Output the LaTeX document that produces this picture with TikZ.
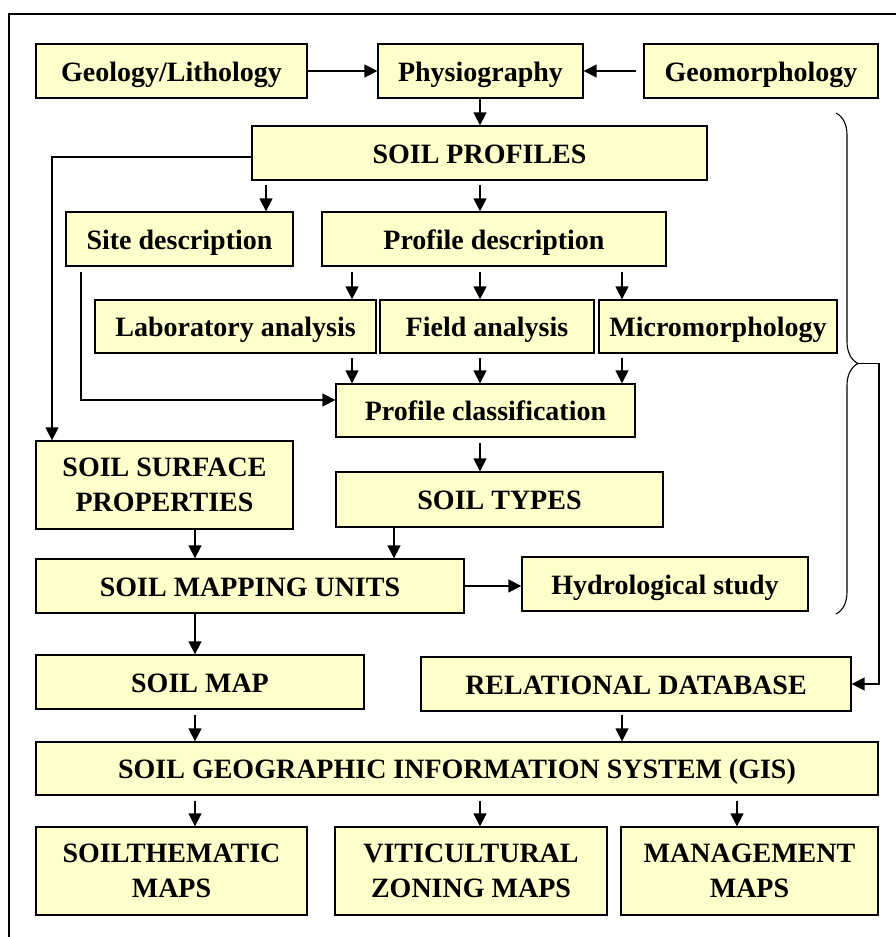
\documentclass[tikz,border=0pt]{standalone}
\usepackage{fontspec}
\setmainfont{Liberation Serif}
\usetikzlibrary{arrows.meta,decorations.pathreplacing}
\definecolor{boxfill}{RGB}{255,255,204}
\begin{document}
\begin{tikzpicture}[x=1pt,y=-1pt,
  box/.style={draw=black,fill=boxfill,line width=1.3pt,inner sep=0pt,align=center,
    font=\fontsize{28}{35}\selectfont\bfseries},
  oneline/.style={box,text height=22pt,text depth=2pt},
  arr/.style={line width=1.4pt,-{Triangle[length=13pt,width=13pt]}},
  plain/.style={line width=1.4pt}]
\useasboundingbox (0,0) rectangle (896,937);
\draw[plain] (9,937) -- (9,14) -- (896,14);
% boxes
\node[oneline,minimum width=271,minimum height=54] (geo) at (171.5,71) {Geology/Lithology};
\node[oneline,minimum width=205,minimum height=54] (phys) at (480.5,71) {Physiography};
\node[oneline,minimum width=234,minimum height=54] (geom) at (761,71) {Geomorphology};
\node[oneline,minimum width=455,minimum height=54] (sp) at (479.5,153) {SOIL PROFILES};
\node[oneline,minimum width=227,minimum height=54] (sd) at (179.5,239) {Site description};
\node[oneline,minimum width=344,minimum height=54] (pd) at (494,239) {Profile description};
\node[oneline,minimum width=281,minimum height=53] (lab) at (235.5,326.5) {Laboratory analysis};
\node[oneline,minimum width=214,minimum height=53] (fa) at (487,326.5) {Field analysis};
\node[oneline,minimum width=238,minimum height=53] (mm) at (718,326.5) {Micromorphology};
\node[oneline,minimum width=299,minimum height=53] (pc) at (485.5,410.5) {Profile classification};
\node[oneline,minimum width=327,minimum height=55] (st) at (499.5,499.5) {SOIL TYPES};
\node[box,minimum width=257,minimum height=88] (ssp) at (164.5,485) {SOIL SURFACE\\PROPERTIES};
\node[oneline,minimum width=428,minimum height=54] (smu) at (250,586) {SOIL MAPPING UNITS};
\node[oneline,minimum width=286,minimum height=54] (hyd) at (665,584) {Hydrological study};
\node[oneline,minimum width=328,minimum height=54] (sm) at (200,682) {SOIL MAP};
\node[oneline,minimum width=430,minimum height=54] (rdb) at (636,684) {RELATIONAL DATABASE};
\node[oneline,minimum width=842,minimum height=53] (gis) at (457,768.5) {SOIL GEOGRAPHIC INFORMATION SYSTEM (GIS)};
\node[box,minimum width=271,minimum height=88] (stm) at (171.5,871) {SOILTHEMATIC\\MAPS};
\node[box,minimum width=272,minimum height=88] (vit) at (471,871) {VITICULTURAL\\ZONING MAPS};
\node[box,minimum width=257,minimum height=88] (mgm) at (749.5,871) {MANAGEMENT\\MAPS};
% connectors
\draw[arr] (geo.east) -- (phys.west);
\draw[arr,shorten <=7pt] (geom.west) -- (phys.east);
\draw[arr] (phys.south -| 480,0) -- (sp.north -| 480,0);
\draw[arr] (sp.west |- 0,157) -| (ssp.north -| 52,0);
\draw[arr,shorten <=4pt] (sp.south -| 266,0) -- (sd.north -| 266,0);
\draw[arr,shorten <=4pt] (sp.south -| 480,0) -- (pd.north -| 480,0);
\draw[arr,shorten <=5pt] (pd.south -| 352,0) -- (lab.north -| 352,0);
\draw[arr,shorten <=5pt] (pd.south -| 480,0) -- (fa.north -| 480,0);
\draw[arr,shorten <=5pt] (pd.south -| 622,0) -- (mm.north -| 622,0);
\draw[arr,shorten <=4pt] (lab.south -| 352,0) -- (pc.north -| 352,0);
\draw[arr,shorten <=4pt] (fa.south -| 480,0) -- (pc.north -| 480,0);
\draw[arr,shorten <=4pt] (mm.south -| 622,0) -- (pc.north -| 622,0);
\draw[arr,shorten <=5pt] (sd.south -| 81,0) |- (pc.west |- 0,400);
\draw[arr,shorten <=5pt] (pc.south -| 480,0) -- (st.north -| 480,0);
\draw[arr] (ssp.south -| 195,0) -- (smu.north -| 195,0);
\draw[arr] (st.south -| 394,0) -- (smu.north -| 394,0);
\draw[arr] (smu.east) -- (hyd.west |- smu.east);
\draw[arr] (smu.south -| 195,0) -- (sm.north -| 195,0);
\draw[arr,shorten <=5pt] (sm.south -| 195,0) -- (gis.north -| 195,0);
\draw[arr,shorten <=3pt] (rdb.south -| 622,0) -- (gis.north -| 622,0);
\draw[arr,shorten <=5pt] (gis.south -| 195,0) -- (stm.north -| 195,0);
\draw[arr,shorten <=5pt] (gis.south -| 480,0) -- (vit.north -| 480,0);
\draw[arr,shorten <=5pt] (gis.south -| 737,0) -- (mgm.north -| 737,0);
% brace
\coordinate (btop) at (836,113);
\coordinate (bbot) at (836,614);
\coordinate (btip) at (858,363.5);
\draw[line width=1.1pt,decorate,decoration={brace,amplitude=22pt}] (btop) -- (bbot);
\draw[arr] (btip) -- (879,363.5) |- (rdb.east);
\end{tikzpicture}
\end{document}
